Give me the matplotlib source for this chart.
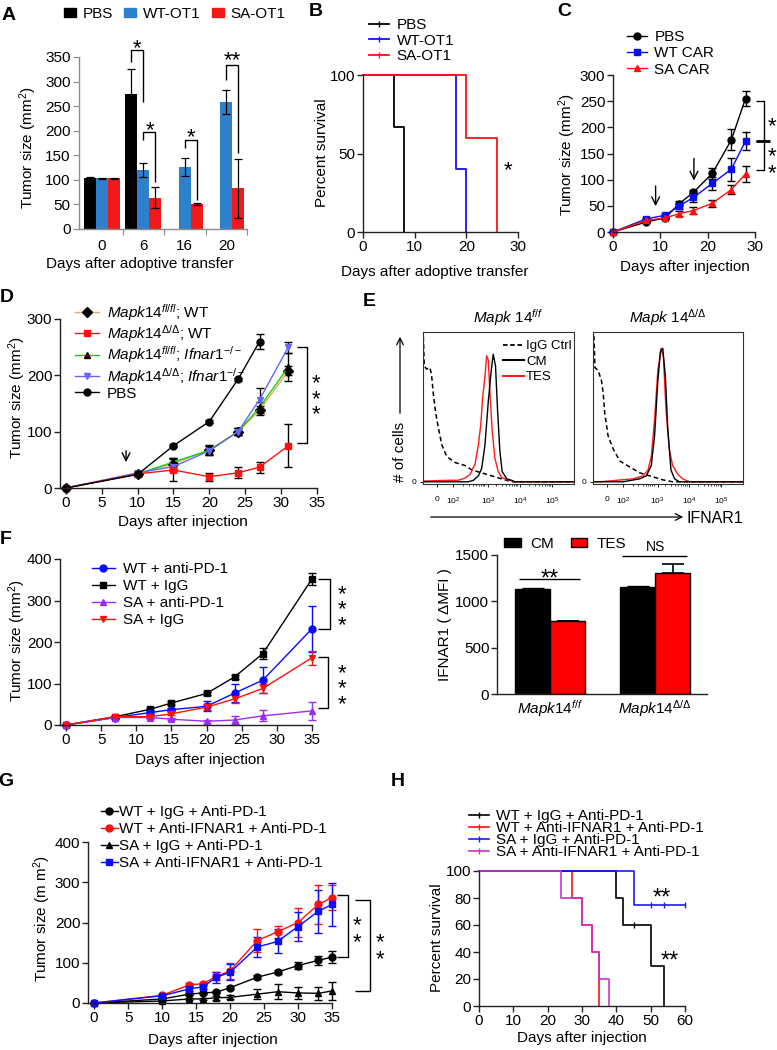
import numpy as np
import matplotlib
matplotlib.use('Agg')
import matplotlib.pyplot as plt
from matplotlib.lines import Line2D
from matplotlib.patches import Patch, FancyArrowPatch
from matplotlib import transforms

plt.rcParams['font.family'] = ['Liberation Sans', 'DejaVu Sans']
plt.rcParams['mathtext.fontset'] = 'custom'
plt.rcParams['mathtext.rm'] = 'Liberation Sans'
plt.rcParams['mathtext.it'] = 'Liberation Sans:italic'
plt.rcParams['mathtext.bf'] = 'Liberation Sans:bold'
plt.rcParams['font.size'] = 11

# ---------------- data ----------------
# A: tumor size bars
a_days = ['0', '6', '16', '20']
a_pbs = [103, 275, np.nan, np.nan]
a_pbs_err = [2, 50, 0, 0]
a_wt = [103, 120, 126, 258]
a_wt_err = [1, 15, 19, 25]
a_sa = [103, 64, 50, 83]
a_sa_err = [1, 22, 2, 60]

# B: survival
b_pbs_t = [0, 6, 8]
b_pbs_s = [100, 66.7, 0]
b_wt_t = [0, 18, 20]
b_wt_s = [100, 40, 0]
b_sa_t = [0, 20, 26]
b_sa_s = [100, 60, 0]

# C: CAR tumor growth
c_days = [0, 7, 11, 14, 17, 21, 25, 28]
c_pbs = [0, 19, 27, 54, 76, 112, 176, 255]
c_pbs_err = [0, 2, 2, 5, 5, 10, 20, 15]
c_wt = [0, 25, 32, 50, 66, 93, 120, 174]
c_wt_err = [0, 2, 2, 6, 8, 12, 22, 17]
c_sa = [0, 22, 27, 35, 41, 55, 81, 111]
c_sa_err = [0, 2, 2, 5, 6, 7, 8, 16]

# D: Mapk14 genotypes
d_days = [0, 10, 15, 20, 24, 27, 31]
d_pbs_days = [0, 10, 15, 20, 24, 27]
d_pbs = [0, 24, 75, 118, 193, 260]
d_pbs_err = [0, 2, 3, 3, 3, 13]
d_ff_wt = [0, 25, 43, 68, 100, 138, 208]
d_ff_wt_err = [0, 3, 10, 8, 6, 8, 8]
d_dd_wt = [0, 25, 32, 20, 27, 37, 75]
d_dd_wt_err = [0, 3, 20, 7, 10, 10, 38]
d_ff_ko = [0, 25, 46, 67, 100, 143, 215]
d_ff_ko_err = [0, 3, 8, 8, 6, 10, 25]
d_dd_ko = [0, 27, 38, 66, 100, 157, 250]
d_dd_ko_err = [0, 3, 8, 8, 6, 20, 10]

# E: flow histograms (x in decade units, y as % of max)
e1_igg_x = [1.10, 1.13, 1.20, 1.30, 1.35, 1.40, 1.47, 1.56, 1.66, 1.81, 2.06, 2.36, 2.57, 2.87, 3.17, 3.47, 3.78, 5.66]
e1_igg_y = [98, 78, 76, 77, 72, 60, 47, 36, 25, 17, 13, 11, 8, 6, 4, 2, 0, 0]
e1_cm_x = [1.10, 2.46, 2.62, 2.77, 2.87, 2.97, 3.07, 3.15, 3.22, 3.29, 3.35, 3.42, 3.49, 3.63, 3.78, 3.88, 5.66]
e1_cm_y = [0, 0, 1, 4, 9, 25, 54, 73, 86, 78, 49, 21, 7, 2, 1, 0, 0]
e1_tes_x = [1.10, 1.86, 2.16, 2.36, 2.52, 2.67, 2.77, 2.84, 2.90, 2.97, 3.02, 3.07, 3.12, 3.19, 3.27, 3.37, 3.47, 3.63, 3.88, 5.66]
e1_tes_y = [0.5, 1, 1, 2.4, 5, 12, 25, 38, 57, 71, 85, 82, 60, 34, 16, 7, 3, 1.5, 0, 0]
e2_igg_x = [1.10, 1.12, 1.15, 1.25, 1.35, 1.40, 1.45, 1.55, 1.71, 1.91, 2.21, 2.52, 2.82, 3.22, 3.52, 5.66]
e2_igg_y = [98, 98, 77, 75, 68, 60, 46, 31, 22, 14, 10, 6, 4, 1.3, 0, 0]
e2_cm_x = [1.10, 2.01, 2.52, 2.72, 2.87, 2.97, 3.07, 3.15, 3.22, 3.30, 3.37, 3.47, 3.58, 3.73, 5.66]
e2_cm_y = [0, 0, 2, 4, 11, 31, 68, 88, 90, 71, 37, 8, 2, 0, 0]
e2_tes_x = [1.10, 1.30, 1.81, 2.31, 2.62, 2.77, 2.87, 2.97, 3.07, 3.17, 3.24, 3.32, 3.42, 3.52, 3.68, 3.83, 4.03, 5.66]
e2_tes_y = [0, 0, 1, 2, 4, 8, 17, 42, 75, 90, 84, 48, 22, 11, 5, 2, 0, 0]
e_ticks = [1.52, 2.0, 3.06, 4.03, 5.0]
e_tick_labels = ['0', '$10^2$', '$10^3$', '$10^4$', '$10^5$']

# E: IFNAR1 MFI bars
e_groups = [r'$\mathit{Mapk14}^{\mathit{f/f}}$', r'$\mathit{Mapk14}^{\mathit{Δ/Δ}}$']
e_cm = [1130, 1160]
e_cm_err = [10, 5]
e_tes = [783, 1310]
e_tes_err = [5, 95]

# F: anti-PD-1
f_days = [0, 7, 12, 15, 20, 24, 28, 35]
f_wt_pd1 = [0, 18, 30, 37, 45, 77, 108, 232]
f_wt_pd1_err = [0, 2, 3, 4, 12, 22, 32, 55]
f_wt_igg = [0, 20, 38, 53, 76, 116, 172, 352]
f_wt_igg_err = [0, 2, 3, 4, 4, 5, 14, 14]
f_sa_pd1 = [0, 18, 18, 14, 9, 12, 22, 34]
f_sa_pd1_err = [0, 2, 3, 3, 4, 10, 13, 22]
f_sa_igg = [0, 20, 20, 27, 43, 63, 88, 162]
f_sa_igg_err = [0, 2, 3, 4, 8, 10, 12, 17]

# G: anti-IFNAR1 + anti-PD-1
g_days = [0, 10, 14, 16, 18, 20, 24, 27, 30, 33, 35]
g_wt_igg = [0, 10, 22, 25, 27, 38, 64, 77, 93, 106, 114]
g_wt_igg_err = [0, 2, 3, 3, 3, 4, 5, 5, 8, 12, 14]
g_wt_ifn = [0, 19, 45, 48, 66, 80, 155, 177, 200, 245, 262]
g_wt_ifn_err = [0, 3, 4, 4, 10, 20, 28, 15, 35, 48, 32]
g_sa_igg = [0, 5, 10, 10, 13, 14, 22, 28, 25, 24, 30]
g_sa_igg_err = [0, 2, 3, 3, 5, 5, 12, 18, 15, 16, 22]
g_sa_ifn = [0, 18, 35, 40, 64, 76, 139, 153, 190, 228, 245]
g_sa_ifn_err = [0, 3, 4, 5, 14, 20, 25, 30, 37, 53, 53]

# H: survival
h_wt_igg_t = [0, 40, 42, 50, 54]
h_wt_igg_s = [100, 80, 60, 30, 0]
h_wt_ifn_t = [0, 27, 30, 33, 35]
h_wt_ifn_s = [100, 80, 60, 40, 0]
h_sa_igg_t = [0, 45, 60]
h_sa_igg_s = [100, 75, 75]
h_sa_ifn_t = [0, 24, 30, 33, 35, 38]
h_sa_ifn_s = [100, 80, 60, 40, 20, 0]
h_cens_wt_t = [45]
h_cens_wt_s = [60]
h_cens_sa_t = [50, 54, 60]
h_cens_sa_s = [75, 75, 75]

# ---------------- helpers ----------------
W, H = 777, 1050
fig = plt.figure(figsize=(W / 100, H / 100), dpi=100)
STAR = 16


def px_axes(l, t, r, b):
    return fig.add_axes([l / W, 1 - b / H, (r - l) / W, (b - t) / H])


def ftext(x, y, s, **kw):
    kw.setdefault('ha', 'center')
    kw.setdefault('va', 'center')
    fig.text(x / W, 1 - y / H, s, **kw)


def prism(ax):
    for s in ['top', 'right']:
        ax.spines[s].set_visible(False)
    for s in ['left', 'bottom']:
        ax.spines[s].set_linewidth(1.0)
        ax.spines[s].set_color('#222222')
    ax.tick_params(direction='out', length=4, width=1, labelsize=11, pad=1.5, color='#222222')


def star(ax, x, y, s='*', size=STAR):
    # y is where the centre of the asterisk glyph should sit
    tr = transforms.offset_copy(ax.transData, fig=fig, y=-0.58 * size, units='points')
    ax.text(x, y, s, transform=tr, ha='center', va='baseline', fontsize=size, clip_on=False)


def star_stack(ax, x, y, n, size=STAR, ls=0.66):
    # n asterisks stacked vertically, centred on y
    tr = transforms.offset_copy(ax.transData, fig=fig, y=-0.32 * size, units='points')
    ax.text(x, y, '\n'.join(['*'] * n), transform=tr, ha='center', va='center',
            fontsize=size, linespacing=ls, clip_on=False)


def line(ax, xs, ys, lw=1.0, color='black'):
    ax.plot(xs, ys, color=color, lw=lw, clip_on=False, solid_capstyle='butt')


def leg(ax, handles, labels, x, y, **kw):
    opts = dict(loc='upper left', bbox_to_anchor=(x / W, 1 - y / H), bbox_transform=fig.transFigure,
                frameon=False, borderpad=0, borderaxespad=0, handletextpad=0.5, labelspacing=0.2,
                fontsize=11, numpoints=1)
    opts.update(kw)
    ax.legend(handles, labels, **opts)


def panel(x, y, s):
    ftext(x, y, s, fontsize=14, fontweight='bold')


# ---------------- A ----------------
ax = px_axes(79, 57, 247, 229)
x = np.arange(len(a_days))
w = 0.29
ek = dict(lw=0.9, ecolor='black', capthick=0.9)
ax.bar(x - w, a_pbs, w, color='black', yerr=a_pbs_err, capsize=3, error_kw=ek)
ax.bar(x, a_wt, w, color='#2f80cc', yerr=a_wt_err, capsize=3, error_kw=ek)
ax.bar(x + w, a_sa, w, color='#f01a1a', yerr=a_sa_err, capsize=3, error_kw=ek)
ax.set_xlim(-0.55, 3.5)
ax.set_ylim(0, 350)
ax.set_yticks(range(0, 351, 50))
for s in ['top', 'right']:
    ax.spines[s].set_visible(False)
for s in ['left', 'bottom']:
    ax.spines[s].set_color('#8c8c8c')
    ax.spines[s].set_linewidth(1.0)
ax.tick_params(axis='y', direction='out', length=4, color='#8c8c8c', labelsize=11, pad=2)
ax.set_xticks([0.5, 1.5, 2.5, 3.5], [])
ax.set_xticks(x, a_days, minor=True)
ax.tick_params(axis='x', which='major', direction='out', length=4, color='#8c8c8c')
ax.tick_params(axis='x', which='minor', length=0, labelsize=11, pad=7)
leg(ax, [Patch(color='black'), Patch(color='#2f80cc'), Patch(color='#f01a1a')],
    ['PBS', 'WT-OT1', 'SA-OT1'], 64, 7, ncol=3, handlelength=0.8, handleheight=0.5,
    handletextpad=0.4, columnspacing=0.75)
# significance brackets
line(ax, [0.71, 0.71, 1.0, 1.0], [340, 364, 364, 258])
star(ax, 0.85, 381)
line(ax, [1.0, 1.0, 1.29, 1.29], [181, 198, 198, 96])
star(ax, 1.15, 216)
line(ax, [2.0, 2.0, 2.29, 2.29], [165, 181, 181, 59])
star(ax, 2.15, 201)
line(ax, [3.0, 3.0, 3.29, 3.29], [303, 334, 334, 154])
star(ax, 3.15, 358, '**')
ftext(28, 148, 'Tumor size (mm$^2$)', rotation=90)
ftext(140, 264, 'Days after adoptive transfer')
panel(9, 15, 'A')

# ---------------- B ----------------
ax = px_axes(363, 75, 518, 232)
prism(ax)
ax.step(b_pbs_t, b_pbs_s, where='post', color='black', lw=1.3, clip_on=False)
ax.step(b_wt_t, b_wt_s, where='post', color='#1010ff', lw=1.3, clip_on=False)
ax.step(b_sa_t, b_sa_s, where='post', color='#ff1010', lw=1.3, clip_on=False)
ax.set_xlim(0, 30)
ax.set_ylim(0, 100)
ax.set_xticks([0, 10, 20, 30])
ax.set_yticks([0, 50, 100])
hb = [Line2D([], [], color=c, lw=1.3, marker='|', ms=5) for c in ['black', '#1010ff', '#ff1010']]
leg(ax, hb, ['PBS', 'WT-OT1', 'SA-OT1'], 369, 18, handlelength=1.3, labelspacing=0.1)
star(ax, 28, 44)
ftext(322, 153, 'Percent survival', rotation=90)
ftext(435, 272, 'Days after adoptive transfer')
panel(316, 11, 'B')

# ---------------- C ----------------
ax = px_axes(613, 75, 755, 232)
prism(ax)
ebk = dict(capsize=3, elinewidth=1, ecolor='black', lw=1, ms=5, clip_on=False)
ax.errorbar(c_days, c_pbs, yerr=c_pbs_err, fmt='-o', color='black', **ebk)
ax.errorbar(c_days, c_wt, yerr=c_wt_err, fmt='-s', color='#0a0aff', **ebk)
ax.errorbar(c_days, c_sa, yerr=c_sa_err, fmt='-^', color='#ff1010', **ebk)
ax.set_xlim(0, 30)
ax.set_ylim(0, 300)
ax.set_xticks([0, 10, 20, 30])
ax.set_yticks(range(0, 301, 50))
ax.annotate('', xy=(9, 44), xytext=(9, 93), arrowprops=dict(arrowstyle='->', lw=1, mutation_scale=14))
ax.annotate('', xy=(17.1, 93), xytext=(17.1, 146), arrowprops=dict(arrowstyle='->', lw=1, mutation_scale=14))
hc = [Line2D([], [], color=c, marker=m, ms=5, lw=1) for c, m in [('black', 'o'), ('#0a0aff', 's'), ('#ff1010', '^')]]
leg(ax, hc, ['PBS', 'WT CAR', 'SA CAR'], 627, 30, handlelength=1.3, labelspacing=0.15)
line(ax, [30.3, 31.9, 31.9, 30.3], [251, 251, 173, 173])
line(ax, [31.9, 31.9, 30.3], [173, 118, 118])
line(ax, [30.3, 33.2], [173, 173], lw=2)
star(ax, 33.6, 216)
star_stack(ax, 33.6, 141, 2, ls=0.72)
ftext(567, 155, 'Tumor size (mm$^2$)', rotation=90)
ftext(685, 267, 'Days after injection')
panel(564, 11, 'C')

# ---------------- D ----------------
ax = px_axes(60, 319, 317, 488)
prism(ax)
ebd = dict(capsize=3, elinewidth=1, ecolor='black', lw=1, ms=5, clip_on=False)
ax.errorbar(d_days, d_ff_wt, yerr=d_ff_wt_err, fmt='-D', color='#f4a460', mfc='black', mec='black', **ebd)
ax.errorbar(d_days, d_ff_ko, yerr=d_ff_ko_err, fmt='-^', color='#10d010', mfc='black', mec='black', **ebd)
ax.errorbar(d_days, d_dd_ko, yerr=d_dd_ko_err, fmt='-v', color='#6666ff', **ebd)
ax.errorbar(d_days, d_dd_wt, yerr=d_dd_wt_err, fmt='-s', color='#ff1010', **ebd)
ax.errorbar(d_pbs_days, d_pbs, yerr=d_pbs_err, fmt='-o', color='black', **ebd)
ax.set_xlim(-0.8, 35)
ax.set_ylim(0, 300)
ax.set_xticks(range(0, 36, 5))
ax.set_yticks([0, 100, 200, 300])
ax.annotate('', xy=(8.4, 41), xytext=(8.4, 71), arrowprops=dict(arrowstyle='->', lw=1, mutation_scale=14))
hd = [Line2D([], [], color='#f4a460', marker='D', mfc='black', mec='black', ms=5, lw=1),
      Line2D([], [], color='#ff1010', marker='s', ms=5, lw=1),
      Line2D([], [], color='#10d010', marker='^', mfc='black', mec='black', ms=5, lw=1),
      Line2D([], [], color='#6666ff', marker='v', ms=5, lw=1),
      Line2D([], [], color='black', marker='o', ms=5, lw=1)]
ld = [r'$\mathit{Mapk14}^{\mathit{fl/fl}}$; WT', r'$\mathit{Mapk14}^{\mathit{Δ/Δ}}$; WT',
      r'$\mathit{Mapk14}^{\mathit{fl/fl}}$; $\mathit{Ifnar1}^{-/-}$',
      r'$\mathit{Mapk14}^{\mathit{Δ/Δ}}$; $\mathit{Ifnar1}^{-/-}$', 'PBS']
leg(ax, hd, ld, 75, 302, handlelength=1.6, labelspacing=0.02)
line(ax, [32.2, 33.6, 33.6, 32.2], [250, 250, 80, 80])
star_stack(ax, 34.9, 170, 3)
ftext(17, 398, 'Tumor size (mm$^2$)', rotation=90)
ftext(183, 522, 'Days after injection')
panel(7, 298, 'D')

# ---------------- E histograms ----------------
minor = [d + np.log10(m) for d in (2, 3, 4) for m in range(2, 10)]
for l, r, ex in [(423, 574, (e1_igg_x, e1_igg_y, e1_cm_x, e1_cm_y, e1_tes_x, e1_tes_y)),
                 (593, 743, (e2_igg_x, e2_igg_y, e2_cm_x, e2_cm_y, e2_tes_x, e2_tes_y))]:
    ax = px_axes(l, 332, r, 484)
    ax.plot(ex[0], ex[1], color='black', lw=1.1, ls=(0, (3, 2)))
    ax.plot(ex[4], ex[5], color='#ff1a1a', lw=1.0)
    ax.plot(ex[2], ex[3], color='black', lw=1.0)
    ax.set_xlim(1.09, 5.67)
    ax.set_ylim(-1.5, 101)
    ax.set_xticks(e_ticks, e_tick_labels)
    ax.set_xticks(minor, minor=True)
    ax.set_yticks([0], ['0'])
    for s in ax.spines.values():
        s.set_linewidth(0.8)
        s.set_color('#333333')
    ax.tick_params(labelsize=6, length=2.5, width=0.6, pad=6)
    ax.tick_params(axis='y', pad=2)
    ax.tick_params(which='minor', length=1.5, width=0.5)
    if l == 423:
        he = [Line2D([], [], color='black', lw=1.3, ls=(0, (2.5, 1.5))),
              Line2D([], [], color='black', lw=1.5),
              Line2D([], [], color='#ff1a1a', lw=1.5)]
        leg(ax, he, ['IgG Ctrl', 'CM', 'TES'], 503, 340, fontsize=9.5, handlelength=1.6,
            handletextpad=0.15, labelspacing=0.25)
ftext(508, 318, r'$\mathit{Mapk\ 14}^{\mathit{f/f}}$', fontsize=11)
ftext(668, 318, r'$\mathit{Mapk\ 14}^{\mathit{Δ/Δ}}$', fontsize=11)
fig.add_artist(FancyArrowPatch((400 / W, 1 - 416 / H), (400 / W, 1 - 334 / H),
                               transform=fig.transFigure, arrowstyle='->', mutation_scale=12, lw=0.9))
ftext(400, 452, '# of cells', rotation=90, fontsize=11)
fig.add_artist(FancyArrowPatch((428 / W, 1 - 517 / H), (686 / W, 1 - 517 / H),
                               transform=fig.transFigure, arrowstyle='->', mutation_scale=12, lw=0.9))
ftext(686, 518, 'IFNAR1', ha='left', fontsize=11.5)
panel(369, 301, 'E')

# ---------------- E bars ----------------
ax = px_axes(497, 555, 707, 694)
prism(ax)
xe = np.arange(len(e_groups))
bw = 0.333
ax.bar(xe - bw / 2, e_cm, bw, color='black', edgecolor='black', lw=1)
ax.bar(xe + bw / 2, e_tes, bw, color='#ff0000', edgecolor='black', lw=1)
ax.errorbar(xe - bw / 2, e_cm, yerr=[np.zeros(2), e_cm_err], fmt='none', ecolor='black', capsize=8, elinewidth=1)
ax.errorbar(xe + bw / 2, e_tes, yerr=[np.zeros(2), e_tes_err], fmt='none', ecolor='black', capsize=8,
            elinewidth=1.2, capthick=1.2)
ax.set_xlim(-0.505, 1.495)
ax.set_ylim(0, 1500)
ax.set_yticks([0, 500, 1000, 1500])
ax.set_xticks(xe, e_groups)
ax.tick_params(axis='x', length=0, pad=3)
line(ax, [-0.30, 0.29], [1240, 1240])
star(ax, 0.0, 1316, '**', size=17)
line(ax, [0.69, 1.30], [1489, 1489])
ax.text(1.0, 1586, 'NS', ha='center', va='center', fontsize=10)
leg(ax, [Patch(color='black'), Patch(color='#ff0000', ec='black')], ['CM', 'TES'], 504, 537,
    ncol=2, handlelength=1.1, handleheight=0.55, columnspacing=1.1, handletextpad=0.6)
ftext(445, 625, 'IFNAR1 ( ΔMFI )', rotation=90)

# ---------------- F ----------------
ax = px_axes(60, 559, 312, 725)
prism(ax)
ebf = dict(capsize=3, elinewidth=1, lw=1, ms=5, clip_on=False)
ax.errorbar(f_days, f_wt_igg, yerr=f_wt_igg_err, fmt='-s', color='black', **ebf)
ax.errorbar(f_days, f_wt_pd1, yerr=f_wt_pd1_err, fmt='-o', color='#0a0aff', **ebf)
ax.errorbar(f_days, f_sa_pd1, yerr=f_sa_pd1_err, fmt='-^', color='#9a2ff0', **ebf)
ax.errorbar(f_days, f_sa_igg, yerr=f_sa_igg_err, fmt='-v', color='#ff1010', **ebf)
ax.set_xlim(-0.85, 35)
ax.set_ylim(0, 400)
ax.set_xticks(range(0, 36, 5))
ax.set_yticks(range(0, 401, 100))
hf = [Line2D([], [], color=c, marker=m, ms=5, lw=1) for c, m in
      [('#0a0aff', 'o'), ('black', 's'), ('#9a2ff0', '^'), ('#ff1010', 'v')]]
leg(ax, hf, ['WT + anti-PD-1', 'WT + IgG', 'SA + anti-PD-1', 'SA + IgG'], 92, 562,
    handlelength=1.5, labelspacing=0.2)
line(ax, [35.8, 37.6, 37.6, 35.8], [352, 352, 232, 232])
line(ax, [35.8, 37.3, 37.3, 35.8], [164, 164, 41, 41])
star_stack(ax, 39.3, 294, 3)
star_stack(ax, 39.3, 104, 3)
ftext(17, 641, 'Tumor size (mm$^2$)', rotation=90)
ftext(200, 760, 'Days after injection')
panel(6, 540, 'F')

# ---------------- G ----------------
ax = px_axes(88, 842, 332, 1003)
prism(ax)
ax.errorbar(g_days, g_wt_igg, yerr=g_wt_igg_err, fmt='-o', color='black', **ebf)
ax.errorbar(g_days, g_sa_igg, yerr=g_sa_igg_err, fmt='-^', color='black', **ebf)
ax.errorbar(g_days, g_wt_ifn, yerr=g_wt_ifn_err, fmt='-o', color='#ff1010', **ebf)
ax.errorbar(g_days, g_sa_ifn, yerr=g_sa_ifn_err, fmt='-s', color='#0a0aff', **ebf)
ax.set_xlim(-0.9, 35)
ax.set_ylim(0, 400)
ax.set_xticks(range(0, 36, 5))
ax.set_yticks(range(0, 401, 100))
hg = [Line2D([], [], color=c, marker=m, ms=5, lw=1) for c, m in
      [('black', 'o'), ('#ff1010', 'o'), ('black', '^'), ('#0a0aff', 's')]]
lab4 = ['WT + IgG + Anti-PD-1', 'WT + Anti-IFNAR1 + Anti-PD-1', 'SA + IgG + Anti-PD-1',
        'SA + Anti-IFNAR1 + Anti-PD-1']
leg(ax, hg, lab4, 101, 805, handlelength=1.1, handletextpad=0.1, labelspacing=0.2)
line(ax, [35.7, 37.4, 37.4, 35.7], [268, 268, 114, 114])
line(ax, [38.4, 40.6, 40.6, 38.4], [256, 256, 30, 30])
star_stack(ax, 38.7, 188, 2, ls=0.72)
star_stack(ax, 42.1, 147, 2, ls=0.78)
ftext(42, 918, 'Tumor size (m m$^2$)', rotation=90)
ftext(213, 1040, 'Days after injection')
panel(6, 782, 'G')

# ---------------- H ----------------
ax = px_axes(479, 871, 685, 1006)
prism(ax)
ax.step(h_wt_ifn_t, h_wt_ifn_s, where='post', color='#ff1010', lw=1.2, clip_on=False)
ax.step(h_wt_igg_t, h_wt_igg_s, where='post', color='black', lw=1.2, clip_on=False)
ax.step(h_sa_igg_t, h_sa_igg_s, where='post', color='#1a1aff', lw=1.2, clip_on=False)
ax.step(h_sa_ifn_t, h_sa_ifn_s, where='post', color='#cc33cc', lw=1.2, clip_on=False)
ax.plot(h_cens_wt_t, h_cens_wt_s, ls='none', marker='|', ms=5, color='black', clip_on=False)
ax.plot(h_cens_sa_t, h_cens_sa_s, ls='none', marker='|', ms=5, color='#1a1aff', clip_on=False)
ax.set_xlim(0, 60)
ax.set_ylim(0, 100)
ax.set_xticks(range(0, 61, 10))
ax.set_yticks(range(0, 101, 20))
hh = [Line2D([], [], color=c, lw=1.2, marker='|', ms=4) for c in ['black', '#ff1010', '#1a1aff', '#cc33cc']]
leg(ax, hh, lab4, 469, 809, handlelength=1.3, handletextpad=0.45, labelspacing=-0.12)
star(ax, 53.3, 85, '**', size=17)
star(ax, 55.6, 38.5, '**', size=17)
ftext(437, 938, 'Percent survival', rotation=90)
ftext(582, 1038, 'Days after injection')
panel(398, 782, 'H')

fig.savefig('out.png', dpi=100)
